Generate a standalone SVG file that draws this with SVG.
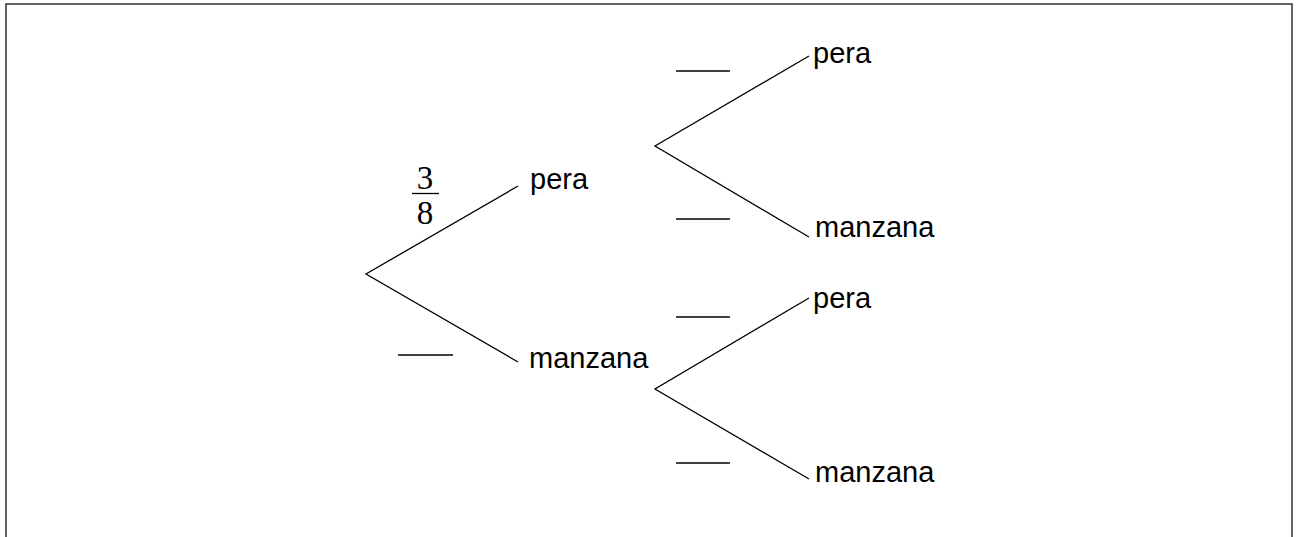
<svg xmlns="http://www.w3.org/2000/svg" width="1300" height="537" viewBox="0 0 1300 537">
  <style>
    .lbl { font-family: "Liberation Sans", Arial, sans-serif; font-size: 29px; fill: #000; }
    .num { font-family: "Liberation Serif", "Times New Roman", serif; font-size: 33px; fill: #000; text-anchor: middle; }
    .edge { stroke: #000; stroke-width: 1.3; fill: none; }
    .blank { stroke: #000; stroke-width: 1.3; }
  </style>
  <rect x="0" y="0" width="1300" height="537" fill="#fff"/>
  <rect x="6" y="4" width="1286" height="600" fill="none" stroke="#333" stroke-width="1.5"/>

  <g id="connectors">
    <path class="edge" d="M518,186 L366,274 L518,362"/>
    <path class="edge" d="M809,56 L655,146 L809,237"/>
    <path class="edge" d="M809,298 L655,389 L809,479"/>
  </g>

  <g id="prob-root-pera">
    <text class="num" x="425" y="189">3</text>
    <line class="blank" x1="412" y1="193.5" x2="439" y2="193.5"/>
    <text class="num" x="425" y="224">8</text>
  </g>
  <g id="prob-root-manzana">
    <line class="blank" x1="398" y1="355" x2="453" y2="355"/>
  </g>
  <g id="prob-pera-pera"><line class="blank" x1="676" y1="71" x2="730" y2="71"/></g>
  <g id="prob-pera-manzana"><line class="blank" x1="676" y1="219" x2="730" y2="219"/></g>
  <g id="prob-manzana-pera"><line class="blank" x1="676" y1="317" x2="730" y2="317"/></g>
  <g id="prob-manzana-manzana"><line class="blank" x1="676" y1="463" x2="730" y2="463"/></g>

  <g id="node-pera1"><text class="lbl" x="530" y="189">pera</text></g>
  <g id="node-manzana1"><text class="lbl" x="529" y="368">manzana</text></g>
  <g id="node-pera-pera"><text class="lbl" x="813" y="63">pera</text></g>
  <g id="node-pera-manzana"><text class="lbl" x="815" y="237">manzana</text></g>
  <g id="node-manzana-pera"><text class="lbl" x="813" y="308">pera</text></g>
  <g id="node-manzana-manzana"><text class="lbl" x="815" y="482">manzana</text></g>
</svg>
